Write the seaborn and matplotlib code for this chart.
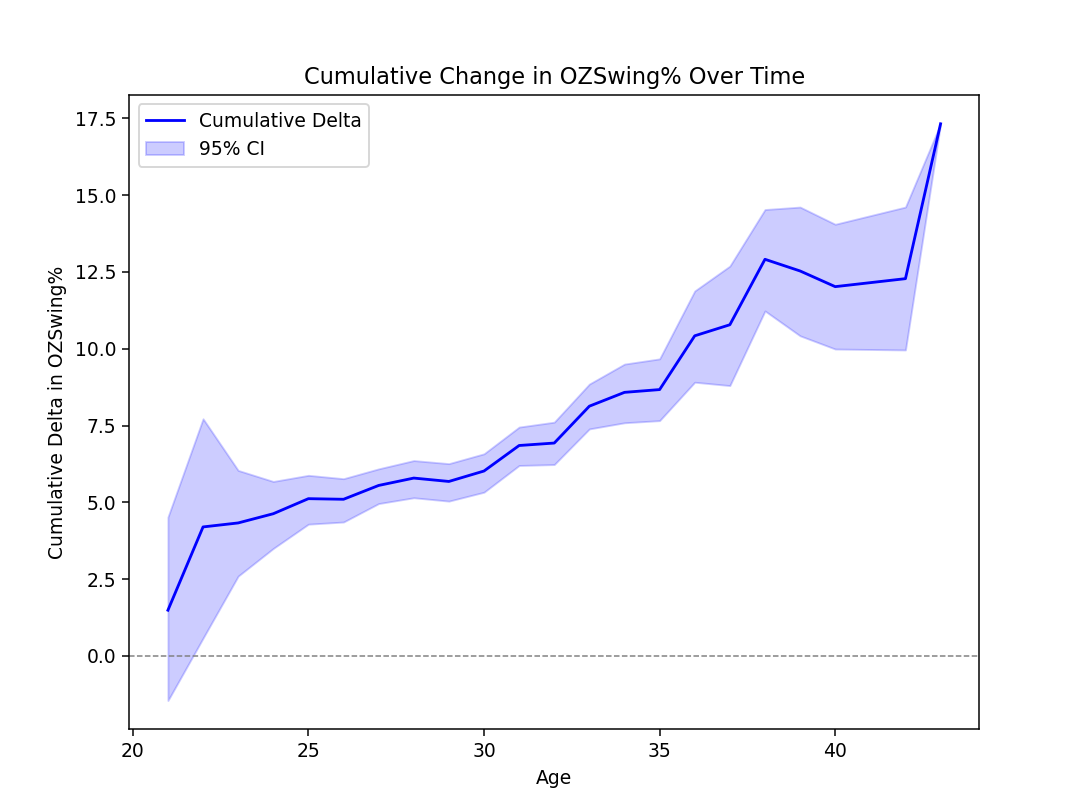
import numpy as np
import matplotlib
matplotlib.use('Agg')
import matplotlib.pyplot as plt
import seaborn as sns

# values
ages = [21, 22, 23, 24, 25, 26, 27, 28, 29, 30, 31, 32, 33, 34, 35, 36, 37, 38, 39, 40, 42, 43]
cum_delta = [1.49, 4.20, 4.33, 4.63, 5.12, 5.10, 5.55, 5.79, 5.68, 6.02, 6.85, 6.93,
             8.13, 8.58, 8.67, 10.42, 10.78, 12.91, 12.53, 12.02, 12.28, 17.32]
ci_lower = [-1.45, 0.58, 2.60, 3.50, 4.29, 4.36, 4.96, 5.15, 5.04, 5.33, 6.20, 6.23,
            7.39, 7.59, 7.66, 8.91, 8.80, 11.23, 10.42, 9.99, 9.96, 17.32]
ci_upper = [4.52, 7.72, 6.04, 5.68, 5.88, 5.77, 6.09, 6.36, 6.26, 6.58, 7.45, 7.61,
            8.85, 9.50, 9.67, 11.88, 12.69, 14.53, 14.61, 14.05, 14.61, 17.32]

dpi = 135
fig, ax = plt.subplots(figsize=(1082 / dpi, 798 / dpi), dpi=dpi)
fig.subplots_adjust(left=0.1195, right=0.905, top=0.881, bottom=0.086)

sns.lineplot(x=ages, y=cum_delta, color='blue', label='Cumulative Delta', ax=ax)
ax.fill_between(ages, ci_lower, ci_upper, color='blue', alpha=0.2, label='95% CI')
ax.axhline(0, color='gray', linestyle='--', linewidth=0.8)

ax.set_title('Cumulative Change in OZSwing% Over Time')
ax.set_xlabel('Age')
ax.set_ylabel('Cumulative Delta in OZSwing%')
ax.legend(loc='upper left')

fig.savefig('out.png', dpi=dpi)
